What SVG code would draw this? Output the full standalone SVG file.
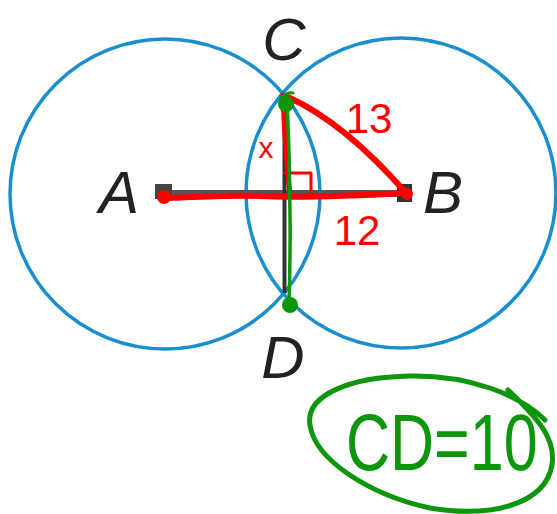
<svg xmlns="http://www.w3.org/2000/svg" width="557" height="514" viewBox="0 0 557 514">
<style>
.circ{fill:none;stroke:#1a8fd0;stroke-width:3.5}
.lbl{font-family:"Liberation Sans",Arial,sans-serif;font-style:italic;font-size:60px;fill:#222;text-anchor:middle}
.red{fill:none;stroke:#ff0000;stroke-linecap:round;stroke-linejoin:round}
.hand{font-family:"Liberation Sans",Arial,sans-serif;fill:#ff0000;text-anchor:middle}
.grn{fill:none;stroke:#0b960b;stroke-linecap:round;stroke-linejoin:round}
</style>
<rect width="557" height="514" fill="#ffffff"/>
<g id="circles">
<circle class="circ" cx="165" cy="194" r="155"/>
<circle class="circ" cx="401" cy="193" r="155"/>
</g>
<g id="segments">
<line x1="160" y1="193.5" x2="408" y2="193.5" stroke="#555" stroke-width="7"/>
<rect x="155" y="184" width="17" height="15" fill="#444"/>
<rect x="397" y="184" width="15" height="18" fill="#333"/>
<line x1="284.5" y1="93" x2="284.5" y2="293" stroke="#333" stroke-width="4"/>
</g>
<g id="red-marks">
<path class="red" stroke-width="6" d="M163 198 C200 197 230 195 260 196 C300 198 350 196 406 193"/>
<path class="red" stroke-width="5" d="M283 95 Q285 150 290 195"/>
<path class="red" stroke-width="6" d="M288 97 Q345 123 406 193"/>
<path class="red" stroke-width="3" d="M285 173 L311 173 L311 193"/>
<circle cx="164" cy="197" r="7" fill="#ff0000"/>
<circle cx="407" cy="194" r="6" fill="#ff0000"/>
<text class="hand" x="369" y="133" font-size="42">13</text>
<text class="hand" x="357" y="245" font-size="42">12</text>
<text class="hand" x="266" y="158" font-size="30">x</text>
</g>
<g id="green-marks">
<path class="grn" stroke-width="3.5" d="M287 98 Q292 200 289 305"/>
<path class="grn" stroke-width="3" d="M281 98 Q287 92 293 93"/>
<circle cx="286" cy="104" r="8" fill="#0b960b"/>
<circle cx="290" cy="305" r="8" fill="#0b960b"/>
</g>
<g id="labels">
<text class="lbl" x="119" y="213">A</text>
<text class="lbl" x="443" y="213">B</text>
<text class="lbl" x="284" y="60">C</text>
<text class="lbl" x="283" y="378">D</text>
</g>
<g id="answer">
<path class="grn" stroke-width="5" d="M545 420 C520 395 470 375 410 376 C350 377 305 395 310 425 C315 460 370 495 430 508 C490 518 545 505 552 465 C556 440 540 420 508 390"/>
<text transform="translate(346,470) scale(1,1.3)" font-family="Liberation Sans, Arial, sans-serif" font-size="61" fill="#0b960b">CD=10</text>
</g>
</svg>
